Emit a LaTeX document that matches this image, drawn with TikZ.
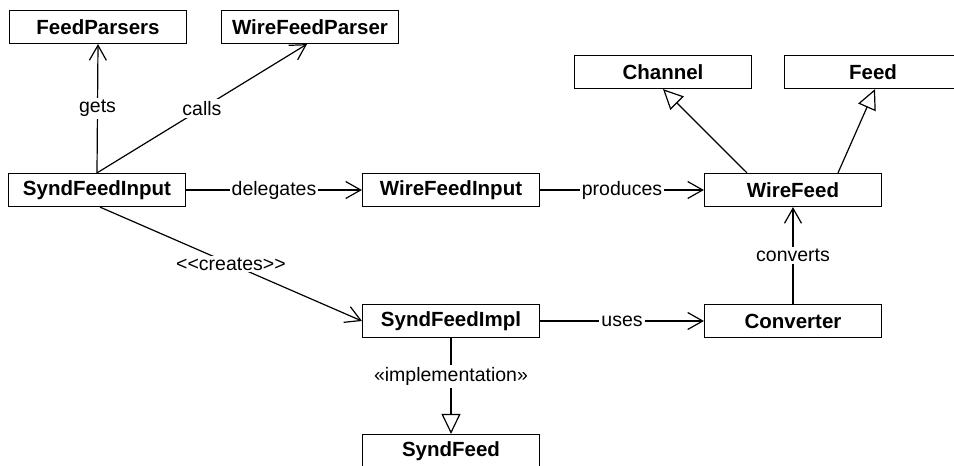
\documentclass[tikz,border=0pt]{standalone}
\usepackage{fontspec}
\setmainfont{Liberation Sans}
\usetikzlibrary{arrows.meta}
\tikzstyle{classbox} = [draw,line width=1.2pt,minimum width=177pt,minimum height=33pt,inner sep=0pt,font=\fontsize{20.5}{22}\selectfont\bfseries]
\tikzstyle{assoc} = [line width=1.2pt,-{Straight Barb[length=15pt,width=17pt,line width=1.2pt]}]
\tikzstyle{realize} = [line width=1.2pt,-{Triangle[open,length=20pt,width=19pt,line width=1.2pt,fill=white]}]
\tikzstyle{lbl} = [fill=white,inner sep=2pt,font=\fontsize{19.5}{21}\selectfont]

\begin{document}
\begin{tikzpicture}[x=1pt,y=-1pt]
            \useasboundingbox (0,0) rectangle (954,466);
            % top row
            \node[classbox] (fp) at (98,27) {FeedParsers};
            \node[classbox] (wfp) at (310,27) {WireFeedParser};
            \node[classbox] (ch) at (663,72) {Channel};
            \node[classbox] (fd) at (873,72) {Feed};
            % middle row
            \node[classbox] (sfi) at (97,190) {SyndFeedInput};
            \node[classbox] (wfi) at (451,190) {WireFeedInput};
            \node[classbox] (wf) at (793,190) {WireFeed};
            % lower rows
            \node[classbox] (impl) at (451,321) {SyndFeedImpl};
            \node[classbox] (conv) at (793,321) {Converter};
            \node[classbox] (sf) at (451,451) {SyndFeed};

            % input side
            \draw[assoc] (sfi.north) -- node[lbl] {gets} (fp.south);
            \draw[assoc] (sfi.north) -- node[lbl] {calls} ([xshift=-3pt]wfp.south);
            \draw[assoc] (sfi.east) -- node[lbl] {delegates} (wfi.west);
            \draw[assoc] ([xshift=3pt]sfi.south) -- node[lbl] {<\kern0pt<creates>\kern0pt>} (impl.west);

            % wire feed side
            \draw[assoc] (wfi.east) -- node[lbl] {produces} (wf.west);
            \draw[realize] ([xshift=-46pt]wf.north) -- (ch.south);
            \draw[realize] ([xshift=45pt]wf.north) -- ([xshift=2pt]fd.south);
            \draw[assoc] (conv.north) -- node[lbl] {converts} (wf.south);
            \draw[assoc] (impl.east) -- node[lbl] {uses} (conv.west);
            \draw[realize] (impl.south) -- node[lbl,pos=0.4] {«implementation»} (sf.north);
        \end{tikzpicture}
\end{document}
